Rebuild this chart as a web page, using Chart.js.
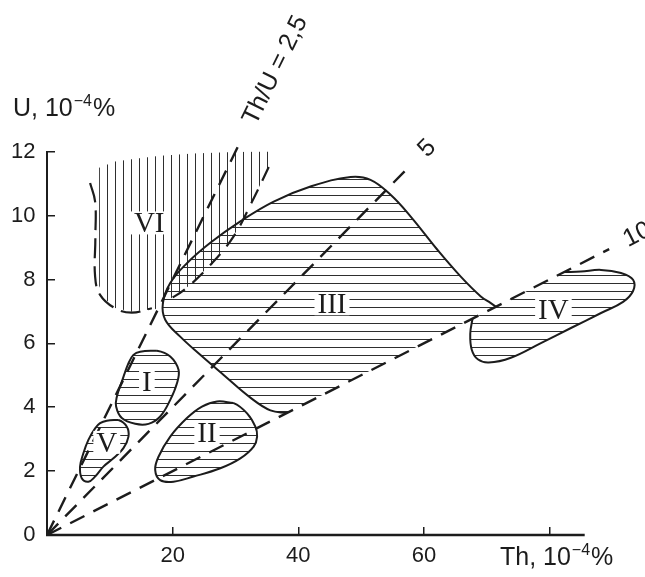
<!DOCTYPE html>
<html>
<head>
<meta charset="utf-8">
<script src="https://cdn.jsdelivr.net/npm/chart.js@4.4.1/dist/chart.umd.min.js"></script>
<style>
  html, body { margin: 0; padding: 0; background: #fff; }
  canvas { display: block; }
</style>
</head>
<body>
<canvas id="chart" width="645" height="577"></canvas>
<script>
// Th–U diagram: fields I–VI with Th/U ratio lines (Th and U in 10^-4 %)

// Axes
const thTicks = [0, 20, 40, 60, 80];
const thTickLabels = [20, 40, 60];
const uTicks = [0, 2, 4, 6, 8, 10, 12];
const thAxisEnd = 85.6;
const thScaleMax = 95.2;

// Th/U reference lines
const ratios = [2.5, 5, 10];
const ratioLineEndTh = [30.4, 58, 89.5];
const ratioLabels = ['Th/U = 2,5', '5', '10'];
const ratioLabelStartU = [12.9, 11.95, 9.2];

// Field outlines as [Th, U] pairs
const fieldI = [[14.83,5.74],[17.5,5.77],[19.62,5.59],[20.94,5.17],[20.69,4.75],[19.62,4.23],[18.02,3.71],[16.16,3.48],[14.04,3.48],[11.91,3.66],[11.0,4.02],[11.12,4.33],[11.91,4.80],[12.97,5.38],[13.76,5.64]];
const fieldII = [[27.07,4.18],[29.71,4.13],[31.85,3.81],[33.17,3.39],[33.45,3.08],[32.9,2.77],[30.78,2.40],[27.59,2.09],[23.33,1.83],[20.14,1.67],[18.02,1.72],[17.22,2.04],[17.75,2.45],[19.62,3.08],[22.28,3.66],[24.67,4.02]];
const fieldV = [[9.52,3.58],[11.37,3.60],[12.71,3.39],[12.97,3.08],[12.17,2.72],[10.57,2.40],[8.98,2.14],[7.66,1.83],[6.59,1.67],[5.53,1.78],[5.26,2.14],[5.79,2.56],[6.59,2.98],[7.66,3.34],[8.45,3.50]];
// III and IV are bounded below/above by the Th/U = 10 line
const fieldIII = [[38.23,3.82],[35.57,3.9],[32.38,4.3],[28.12,5.01],[24.4,5.64],[21.21,6.21],[18.82,6.74],[18.45,7.26],[19.62,7.89],[22.28,8.51],[26.0,9.15],[30.78,9.82],[36.09,10.44],[41.95,10.91],[48.33,11.21],[51.5,11.12],[54.7,10.65],[57.9,9.97],[62.15,8.93],[65.87,8.09],[69.06,7.47],[70.65,7.26],[71.45,7.15]];
const fieldIV = [[67.74,6.77],[67.38,6.3],[67.62,5.8],[68.58,5.5],[70.33,5.4],[73.84,5.55],[78.63,6.01],[83.41,6.48],[88.2,6.95],[91.71,7.3],[93.3,7.64],[93.3,7.99],[91.39,8.2],[88.2,8.3],[85.0,8.25],[82.34,8.23]];
const fieldVI = [[8.3,11.5],[10.85,11.69],[14.04,11.78],[18.02,11.87],[23.29,11.94],[28.71,11.98],[35.3,12.03],[35.3,11.52],[32.65,10.44],[29.71,9.35],[26.27,8.51],[22.01,7.70],[19.35,7.36],[17.22,7.07],[15.3,7.04],[13.5,6.99],[10.85,7.11],[9.2,7.4],[8.3,7.8]];
const fieldVIEdgeLeft = [[6.86,11.02],[7.66,10.44],[7.7,9.3],[7.66,8.09],[8.45,7.52],[10.85,7.10],[13.5,6.96],[16.7,7.10]];
const fieldVIEdgeRight = [[35.3,11.52],[32.65,10.44],[29.71,9.35],[26.27,8.51],[22.01,7.70],[19.35,7.36]];

// Field numerals and where they sit
const fieldNames = ['I', 'II', 'III', 'IV', 'V', 'VI'];
const fieldNameTh = [15.9, 25.47, 45.37, 80.62, 9.52, 16.27];
const fieldNameU = [4.82, 3.2, 7.24, 7.05, 2.9, 9.77];

const SANS = '"Liberation Sans", Arial, Helvetica, sans-serif';
const SERIF = '"Liberation Serif", "Times New Roman", serif';
const INK = '#1c1c1c';

const toPoints = list => list.map(([x, y]) => ({ x, y }));
const closedPoints = list => toPoints([...list, list[0], list[1]]);

const canvas = document.getElementById('chart');
const ctx0 = canvas.getContext('2d');

function hatch(vertical) {
  const c = document.createElement('canvas');
  c.width = 8; c.height = 8;
  const g = c.getContext('2d');
  g.fillStyle = '#2e2e2e';
  if (vertical) g.fillRect(3, 0, 1, 8); else g.fillRect(0, 3, 8, 1);
  return ctx0.createPattern(c, 'repeat');
}
const hPattern = hatch(false);
const vPattern = hatch(true);

const hideFirstSegment = { borderColor: c => c.p0DataIndex === 0 ? 'rgba(0,0,0,0)' : undefined };

const field = (data, pattern, closed) => ({
  data: closed ? closedPoints(data) : toPoints(data),
  borderColor: INK, borderWidth: 2, backgroundColor: pattern,
  fill: 'shape', tension: 0.4, pointRadius: 0, clip: false,
  segment: closed ? hideFirstSegment : undefined
});

const ratioLines = ratios.map((r, i) => ({
  data: [{ x: 0, y: 0 }, { x: ratioLineEndTh[i], y: ratioLineEndTh[i] / r }],
  borderColor: INK, borderWidth: 2.4, borderDash: [16, 10],
  fill: false, tension: 0, pointRadius: 0, clip: false
}));

const datasets = [
  ...ratioLines,
  { data: toPoints(fieldVIEdgeLeft), borderColor: INK, borderWidth: 2.2, borderDash: [20, 8], fill: false, tension: 0.4, pointRadius: 0, clip: false },
  { data: toPoints(fieldVIEdgeRight), borderColor: INK, borderWidth: 2.2, borderDash: [15, 10], fill: false, tension: 0.4, pointRadius: 0, clip: false },
  field(fieldI, hPattern, true),
  field(fieldII, hPattern, true),
  field(fieldV, hPattern, true),
  field(fieldIII, hPattern, false),
  field(fieldIV, hPattern, false),
  { data: toPoints(fieldVI), borderColor: 'rgba(0,0,0,0)', borderWidth: 0, backgroundColor: vPattern, fill: 'shape', tension: 0, pointRadius: 0, clip: false }
];

function unitTitle(ctx, sym, x0, base) {
  ctx.textAlign = 'left';
  ctx.textBaseline = 'alphabetic';
  ctx.fillStyle = INK;
  ctx.font = '25px ' + SANS;
  const main = sym + ', 10';
  ctx.fillText(main, x0, base);
  let xx = x0 + ctx.measureText(main).width + 1;
  ctx.font = '16px ' + SANS;
  ctx.fillText('\u22124', xx, base - 10);
  xx += ctx.measureText('\u22124').width + 1;
  ctx.font = '25px ' + SANS;
  ctx.fillText('%', xx, base);
}

const annotate = {
  id: 'annotate',
  afterDatasetsDraw(chart) {
    const { ctx, chartArea, scales: { x, y } } = chart;
    ctx.save();
    // Th axis line
    ctx.strokeStyle = INK;
    ctx.lineWidth = 2.5;
    ctx.beginPath();
    ctx.moveTo(x.getPixelForValue(0) - 1, y.getPixelForValue(0));
    ctx.lineTo(x.getPixelForValue(thAxisEnd), y.getPixelForValue(0));
    ctx.stroke();

    // Field numerals on a white knockout
    ctx.font = '29px ' + SERIF;
    ctx.textAlign = 'center';
    ctx.textBaseline = 'alphabetic';
    const cap = 19;
    fieldNames.forEach((name, i) => {
      const px = x.getPixelForValue(fieldNameTh[i]);
      const py = y.getPixelForValue(fieldNameU[i]);
      const w = ctx.measureText(name).width;
      ctx.fillStyle = '#fff';
      ctx.fillRect(px - w / 2 - 3, py - cap / 2 - 2, w + 6, cap + 4);
      ctx.fillStyle = INK;
      ctx.fillText(name, px, py + cap / 2);
    });

    // Ratio labels continue each dashed line
    ctx.font = '25px ' + SANS;
    ratios.forEach((r, i) => {
      const u = ratioLabelStartU[i];
      const px = x.getPixelForValue(u * r);
      const py = y.getPixelForValue(u);
      const ang = Math.atan2(y.getPixelForValue(1) - y.getPixelForValue(0),
                             x.getPixelForValue(r) - x.getPixelForValue(0));
      ctx.save();
      ctx.translate(px, py);
      ctx.rotate(ang);
      ctx.textAlign = 'left';
      ctx.textBaseline = 'middle';
      ctx.fillStyle = INK;
      ctx.fillText(ratioLabels[i], 0, 0);
      ctx.restore();
    });

    // Axis titles
    unitTitle(ctx, 'U', 13, chartArea.top - 36);
    unitTitle(ctx, 'Th', 500, chartArea.bottom + 30);
    ctx.restore();
  }
};

const tickFont = { family: SANS, size: 22 };

new Chart(canvas, {
  type: 'line',
  data: { datasets },
  options: {
    responsive: false,
    animation: false,
    devicePixelRatio: 1,
    events: [],
    layout: { padding: { top: 151.7, left: 0, right: 0, bottom: 0 } },
    plugins: { legend: { display: false }, tooltip: { enabled: false } },
    elements: { line: { capBezierPoints: false }, point: { radius: 0 } },
    scales: {
      x: {
        type: 'linear', min: 0, max: thScaleMax,
        afterBuildTicks: s => { s.ticks = thTicks.map(v => ({ value: v })); },
        afterFit: s => { s.height = 42; },
        ticks: {
          font: tickFont, color: INK, padding: 15.8, autoSkip: false, maxRotation: 0,
          callback: v => thTickLabels.includes(v) ? String(v) : ''
        },
        grid: { drawOnChartArea: false, drawTicks: true, tickLength: -8, color: INK, lineWidth: 1.5 },
        border: { display: false }
      },
      y: {
        type: 'linear', min: 0, max: 12,
        afterBuildTicks: s => { s.ticks = uTicks.map(v => ({ value: v })); },
        afterFit: s => { s.width = 47; },
        ticks: { font: tickFont, color: INK, padding: 19.5, autoSkip: false },
        grid: { drawOnChartArea: false, drawTicks: true, tickLength: -8, color: INK, lineWidth: 1.5 },
        border: { display: true, color: INK, width: 2 }
      }
    }
  },
  plugins: [annotate]
});
</script>
</body>
</html>
